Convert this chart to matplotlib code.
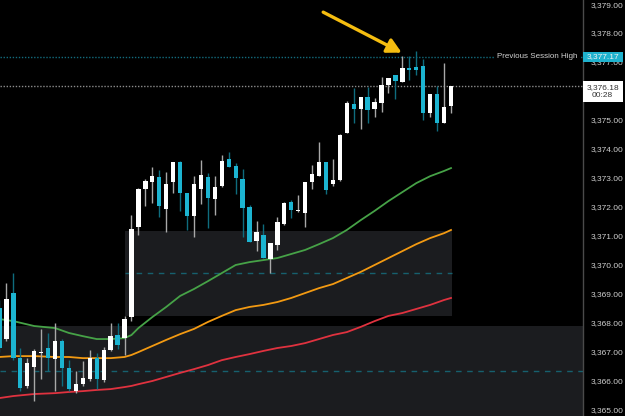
import matplotlib
matplotlib.use("Agg")
import matplotlib.pyplot as plt
import matplotlib.transforms as mtransforms
from matplotlib.patches import Rectangle
from matplotlib.ticker import FuncFormatter
import numpy as np

plt.rcParams['font.family'] = ['Liberation Sans', 'DejaVu Sans']

# ---------------------------------
# candle data
# ---------------------------------
opens = [3368.49, 3367.42, 3369.01, 3366.76, 3365.80, 3366.45, 3366.93, 3367.11, 3366.73, 3367.35,
         3366.42, 3365.62, 3365.86, 3366.04, 3366.76, 3366.00, 3367.04, 3367.56, 3367.45, 3368.18,
         3371.29, 3372.61, 3372.85, 3373.02, 3371.91, 3372.85, 3373.54, 3372.47, 3371.67, 3372.61,
         3373.02, 3372.26, 3372.71, 3373.64, 3373.40, 3372.95, 3371.98, 3370.81, 3371.02, 3370.19,
         3370.67, 3371.40, 3372.16, 3371.85, 3371.78, 3372.85, 3373.05, 3373.54, 3372.78, 3372.92,
         3374.54, 3375.54, 3375.37, 3375.79, 3375.37, 3375.58, 3376.20, 3376.55, 3376.30, 3376.79,
         3376.82, 3376.86, 3375.23, 3375.89, 3374.89, 3375.47]
highs = [3368.77, 3369.36, 3369.70, 3367.11, 3366.76, 3367.07, 3367.77, 3367.63, 3367.97, 3367.42,
         3366.69, 3366.31, 3366.66, 3367.04, 3366.94, 3367.14, 3367.97, 3367.97, 3368.22, 3371.71,
         3372.63, 3372.95, 3373.37, 3373.26, 3373.19, 3373.55, 3373.57, 3372.48, 3373.05, 3373.61,
         3373.16, 3373.05, 3373.78, 3373.88, 3373.50, 3373.30, 3372.05, 3371.50, 3371.40, 3370.75,
         3371.64, 3372.16, 3372.23, 3372.40, 3372.86, 3373.43, 3374.23, 3373.55, 3373.64, 3374.51,
         3375.65, 3376.10, 3375.80, 3376.13, 3375.75, 3376.48, 3376.45, 3376.56, 3377.20, 3377.20,
         3377.37, 3377.10, 3375.90, 3376.17, 3376.96, 3376.18]
lows = [3366.97, 3367.35, 3366.69, 3365.62, 3365.73, 3365.28, 3366.04, 3366.31, 3365.62, 3365.80,
        3365.62, 3365.55, 3365.80, 3365.97, 3365.69, 3365.93, 3367.01, 3367.07, 3366.87, 3368.04,
        3371.02, 3372.02, 3372.12, 3371.64, 3371.12, 3372.47, 3371.85, 3371.19, 3370.95, 3372.09,
        3371.26, 3371.71, 3372.67, 3373.36, 3372.43, 3370.95, 3370.76, 3370.46, 3370.21, 3369.70,
        3370.50, 3371.36, 3371.60, 3371.81, 3371.29, 3372.61, 3373.04, 3372.43, 3372.71, 3372.88,
        3374.53, 3374.89, 3374.68, 3374.89, 3375.09, 3375.27, 3375.92, 3375.72, 3376.29, 3376.37,
        3376.55, 3374.99, 3375.09, 3374.61, 3374.88, 3375.23]
closes = [3367.11, 3368.80, 3366.76, 3365.73, 3366.59, 3367.01, 3366.95, 3366.76, 3367.35, 3366.42,
          3365.69, 3365.86, 3366.07, 3366.76, 3366.04, 3367.04, 3367.52, 3367.21, 3368.11, 3371.22,
          3372.61, 3372.88, 3373.05, 3372.02, 3372.78, 3373.54, 3372.47, 3371.67, 3372.78, 3373.09,
          3372.29, 3372.67, 3373.57, 3373.37, 3372.99, 3371.95, 3370.77, 3371.12, 3370.22, 3370.74,
          3371.46, 3372.12, 3371.88, 3371.88, 3372.85, 3373.12, 3373.54, 3372.57, 3372.92, 3374.47,
          3375.58, 3375.37, 3375.79, 3375.34, 3375.61, 3376.20, 3376.44, 3376.34, 3376.79, 3376.72,
          3376.72, 3375.23, 3375.89, 3374.89, 3375.44, 3376.18]

# moving averages, sampled at these candle indices
ma_idx = [0, 2, 5, 8, 10, 12, 14, 16, 18, 19, 20, 22, 24, 26, 28, 30, 32, 34, 36, 38, 40,
          42, 44, 46, 48, 50, 52, 54, 56, 58, 60, 62, 64, 65]
ma_fast = [3368.11, 3368.04, 3367.87, 3367.80, 3367.63, 3367.52, 3367.42, 3367.42, 3367.45, 3367.56,
           3367.80, 3368.18, 3368.53, 3368.91, 3369.15, 3369.42, 3369.70, 3369.98, 3370.08, 3370.15,
           3370.22, 3370.36, 3370.50, 3370.70, 3370.91, 3371.19, 3371.53, 3371.85, 3372.19, 3372.50,
           3372.81, 3373.05, 3373.23, 3373.33]
ma_mid = [3366.80, 3366.83, 3366.83, 3366.80, 3366.80, 3366.76, 3366.76, 3366.76, 3366.80, 3366.87,
          3366.97, 3367.18, 3367.39, 3367.59, 3367.77, 3368.01, 3368.22, 3368.42, 3368.53, 3368.60,
          3368.70, 3368.84, 3369.01, 3369.18, 3369.32, 3369.53, 3369.74, 3369.98, 3370.22, 3370.46,
          3370.70, 3370.91, 3371.08, 3371.19]
ma_slow = [3365.38, 3365.45, 3365.52, 3365.55, 3365.59, 3365.62, 3365.66, 3365.69, 3365.76, 3365.80,
           3365.86, 3365.97, 3366.11, 3366.25, 3366.38, 3366.52, 3366.69, 3366.80, 3366.90, 3367.01,
           3367.11, 3367.18, 3367.28, 3367.42, 3367.56, 3367.66, 3367.84, 3368.04, 3368.22, 3368.32,
           3368.46, 3368.60, 3368.77, 3368.84]

# zones and levels
zone_upper = (18.05, 65.1, 3368.22, 3371.15)   # start idx, end idx, low, high
zone_upper_mid = 3369.70
zone_lower_top = 3367.87
zone_lower_mid = 3366.31
prev_high = 3377.17
last_price = 3376.18
countdown = "00:28"
y_ticks = list(range(3365, 3380))

# ---------------------------------
# figure
# ---------------------------------
fig = plt.figure(figsize=(6.25, 4.16), dpi=100, facecolor='black')
ax = fig.add_axes([0, 0, 582.5 / 625, 1])
ax.set_facecolor('black')

ax.set_xlim(0.072, 83.93)
ax.set_ylim(3364.76, 3379.14)

# zones
x0, x1, lo, hi = zone_upper
ax.add_patch(Rectangle((x0, lo), x1 - x0, hi - lo, facecolor='#1b1c1f', edgecolor='none', zorder=0))
ax.axhspan(3360, zone_lower_top, facecolor='#1b1c1f', edgecolor='none', zorder=0)
ax.hlines(zone_upper_mid, x0, x1, colors='#16606e', linestyles=(0, (4, 4)), lw=1, zorder=1)
ax.axhline(zone_lower_mid, color='#16606e', ls=(0, (4, 4)), lw=1, zorder=1)

# level lines
ax.axhline(prev_high, color='#136b7d', ls=(0, (1, 1.2)), lw=1, zorder=1)
ax.axhline(last_price, color='#8c8c8c', ls=(0, (1, 1.2)), lw=1, zorder=1)

# moving averages
ax.plot(ma_idx, ma_slow, color='#e0323f', lw=1.3, zorder=2)
ax.plot(ma_idx, ma_mid, color='#f39a12', lw=1.3, zorder=2)
ax.plot(ma_idx, ma_fast, color='#46a247', lw=1.3, zorder=2)

# candles
o = np.array(opens)
h = np.array(highs)
l = np.array(lows)
c = np.array(closes)
x = np.arange(len(o))
up = c >= o
ax.vlines(x[up], l[up], h[up], colors='#a8a8a8', lw=1, zorder=3)
ax.vlines(x[~up], l[~up], h[~up], colors='#0f6c7e', lw=1, zorder=3)
body_h = np.maximum(np.abs(c - o), 0.035)
body_b = np.minimum(o, c)
ax.bar(x[up], body_h[up], bottom=body_b[up], width=0.62, color='#ffffff', edgecolor='none', zorder=4)
ax.bar(x[~up], body_h[~up], bottom=body_b[~up], width=0.62, color='#1cb4d1', edgecolor='none', zorder=4)

tr = mtransforms.blended_transform_factory(ax.transAxes, ax.transData)

# label on previous session high
ax.text(0.992, prev_high, 'Previous Session High', transform=tr,
        ha='right', va='center', fontsize=5.8, color='#d2d2d2', zorder=5,
        bbox=dict(facecolor='black', edgecolor='none', pad=1.5))

# arrow
ax.annotate('', xy=(57.9, 3377.32), xytext=(46.6, 3378.72),
            arrowprops=dict(arrowstyle='-|>,head_length=0.85,head_width=0.45', color='#f5bd10',
                            lw=2.4, shrinkA=0, shrinkB=0), zorder=6)

# axis styling; ticks hidden under the last-price box are left out
ax.set_xticks([])
ax.yaxis.tick_right()
ax.set_yticks([t for t in y_ticks if abs(t - last_price) > 0.5])
ax.yaxis.set_major_formatter(FuncFormatter(lambda v, pos: f"{v:,.2f}"))
ax.tick_params(axis='y', length=0, pad=6, labelsize=6, labelcolor='#cfcfcf')
for side in ['top', 'left', 'bottom']:
    ax.spines[side].set_visible(False)
ax.spines['right'].set_color('#4a4a4a')
ax.spines['right'].set_linewidth(1)

# price boxes on the axis
bw = 40 / 582.5
ax.add_patch(Rectangle((1.0, prev_high - 0.17), bw, 0.34, transform=tr, facecolor='#1fb2ce',
                       edgecolor='none', clip_on=False, zorder=7))
ax.text(1.0 + bw / 2, prev_high, f"{prev_high:,.2f}", transform=tr, ha='center', va='center',
        fontsize=6, color='#f2f2f2', clip_on=False, zorder=8)
ax.add_patch(Rectangle((1.0, last_price - 0.56), bw, 0.73, transform=tr, facecolor='#ffffff',
                       edgecolor='none', clip_on=False, zorder=7))
ax.text(1.0 + bw / 2, last_price - 0.195, f"{last_price:,.2f}\n{countdown}", transform=tr,
        ha='center', va='center', fontsize=6, linespacing=1.15, color='#333333',
        clip_on=False, zorder=8)

fig.savefig('out.png', dpi=100, facecolor='black')
